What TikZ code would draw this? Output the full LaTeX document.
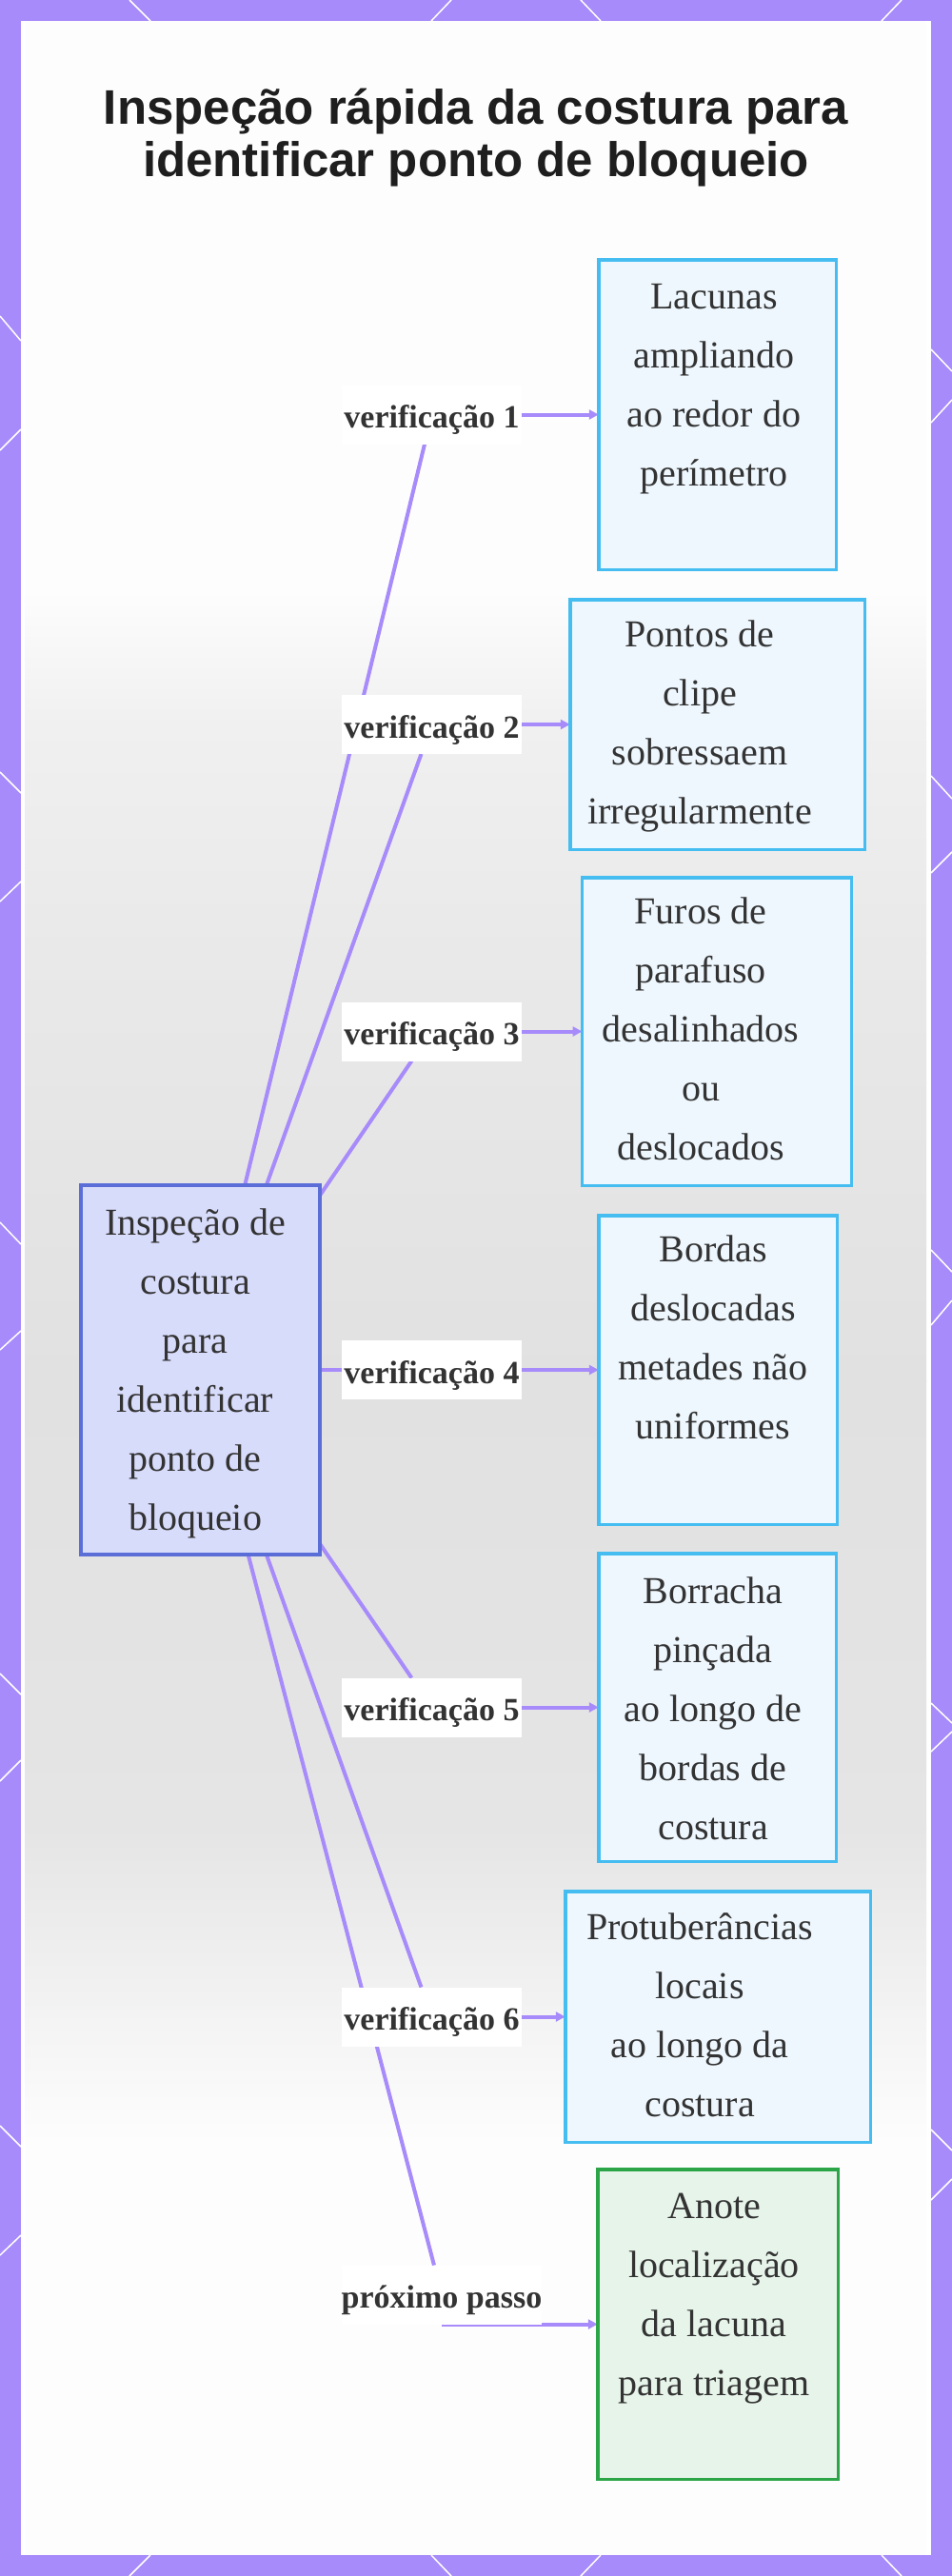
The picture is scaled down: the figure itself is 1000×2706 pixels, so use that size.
\documentclass[tikz,border=0pt]{standalone}
\usepackage{fontspec}
\setmainfont{Liberation Serif}
\newfontfamily\titlefont{Liberation Sans}
\usetikzlibrary{arrows.meta}
\definecolor{framec}{HTML}{A78BFA}
\definecolor{edgec}{HTML}{A78BFA}
\definecolor{ink}{HTML}{333333}
\definecolor{titlec}{HTML}{1E1E1E}
\definecolor{bluebd}{HTML}{45BDF0}
\definecolor{bluefill}{HTML}{EEF7FE}
\definecolor{greenbd}{HTML}{2BA548}
\definecolor{greenfill}{HTML}{E6F4EA}
\definecolor{hubbd}{HTML}{5B6ED8}
\definecolor{hubfill}{HTML}{D8DCFB}
\definecolor{gA}{HTML}{FDFDFD}
\definecolor{gB}{HTML}{F0F0F0}
\definecolor{gC}{HTML}{E9E9E9}
\definecolor{gD}{HTML}{E1E1E1}
\definecolor{gE}{HTML}{E5E5E5}
\pgfdeclarelayer{back}
\pgfdeclarelayer{edges}
\pgfsetlayers{back,edges,main}
\begin{document}
\begin{tikzpicture}[x=1pt,y=-1pt,
  every node/.style={inner sep=0pt, outer sep=0pt},
  hub/.style={draw=hubbd, fill=hubfill, line width=4pt},
  leaf/.style={draw=bluebd, fill=bluefill, line width=3.5pt},
  goal/.style={draw=greenbd, fill=greenfill, line width=3.5pt},
  txt/.style={anchor=north, align=center, text=ink, font=\fontsize{40}{62}\selectfont},
  lab/.style={fill=white, text=ink, font=\fontsize{34}{40}\selectfont\bfseries,
              minimum width=189pt, minimum height=62pt, text height=31pt, text depth=3pt},
  link/.style={draw=edgec, line width=4pt},
  arr/.style={draw=edgec, line width=4pt, -{Triangle[length=10pt,width=10pt]}},
  deco/.style={draw=white, line width=1.5pt},
  ttl/.style={anchor=base, text=titlec, font=\titlefont\fontsize{51}{55}\selectfont\bfseries}
]
\useasboundingbox (0,0) rectangle (1000,2706);

% ---------- main nodes ----------
\node[ttl] (t1) at (500,130) {Inspeção rápida da costura para};
\node[ttl] (t2) at (500,185) {identificar ponto de bloqueio};

\node[hub, minimum width=251pt, minimum height=388pt] (hub) at (210.5,1439) {};
\node[txt] (hubt) at (205,1270) {Inspeção de\\costura\\para\\identificar\\ponto de\\bloqueio};

\node[leaf, minimum width=249.5pt, minimum height=325.5pt] (b1) at (753.5,435.5) {};
\node[txt] (b1t) at (750,298) {Lacunas\\ampliando\\ao redor do\\perímetro};

\node[leaf, minimum width=309.5pt, minimum height=262.5pt] (b2) at (753.5,761) {};
\node[txt] (b2t) at (735,652) {Pontos de\\clipe\\sobressaem\\irregularmente};

\node[leaf, minimum width=283pt, minimum height=323.5pt] (b3) at (753,1083.5) {};
\node[txt] (b3t) at (736,943) {Furos de\\parafuso\\desalinhados\\ou\\deslocados};

\node[leaf, minimum width=250.5pt, minimum height=324.5pt] (b4) at (754,1439) {};
\node[txt] (b4t) at (749,1298) {Bordas\\deslocadas\\metades não\\uniformes};

\node[leaf, minimum width=249.5pt, minimum height=323.5pt] (b5) at (753.5,1793.5) {};
\node[txt] (b5t) at (749,1657) {Borracha\\pinçada\\ao longo de\\bordas de\\costura};

\node[leaf, minimum width=320.5pt, minimum height=263.5pt] (b6) at (754,2118.5) {};
\node[txt] (b6t) at (735,2010) {Protuberâncias\\locais\\ao longo da\\costura};

\node[goal, minimum width=252.5pt, minimum height=325.5pt] (b7) at (754,2441.5) {};
\node[txt] (b7t) at (750,2304) {Anote\\localização\\da lacuna\\para triagem};

\node[lab] (l1) at (453.5,435.5) {verificação 1};
\node[lab] (l2) at (453.5,761) {verificação 2};
\node[lab] (l3) at (453.5,1083.5) {verificação 3};
\node[lab] (l4) at (453.5,1439) {verificação 4};
\node[lab] (l5) at (453.5,1793.5) {verificação 5};
\node[lab] (l6) at (453.5,2118.5) {verificação 6};
\node[lab] (l7) at (464,2410.5) {próximo passo};

% ---------- connectors ----------
\begin{pgfonlayer}{edges}
\foreach \k in {1,...,7} { \draw[link] (hub) -- (l\k); }
\foreach \k in {1,...,6} { \draw[arr] (l\k) -- (b\k); }
\draw[arr] (l7.south) -- (b7.west);
\end{pgfonlayer}

% ---------- frame and background ----------
\begin{pgfonlayer}{back}
\fill[framec] (0,0) rectangle (1000,2706);
% top / bottom
\draw[deco] (136,0) -- (158,22);   \draw[deco] (474,0) -- (453,22);
\draw[deco] (610,0) -- (631,22);   \draw[deco] (947,0) -- (926,22);
\draw[deco] (158,2684) -- (136,2706); \draw[deco] (453,2684) -- (474,2706);
\draw[deco] (631,2684) -- (610,2706); \draw[deco] (926,2684) -- (947,2706);
% left
\draw[deco] (0,332) -- (22,358);   \draw[deco] (0,473) -- (22,451);
\draw[deco] (0,811) -- (22,833);   \draw[deco] (0,947) -- (22,926);
\draw[deco] (0,1284) -- (22,1307); \draw[deco] (0,1418) -- (22,1398);
\draw[deco] (0,1758) -- (22,1780); \draw[deco] (0,1871) -- (22,1849);
\draw[deco] (0,2233) -- (22,2255); \draw[deco] (0,2369) -- (22,2348);
% right
\draw[deco] (978,367) -- (1000,390);   \draw[deco] (978,444) -- (1000,420);
\draw[deco] (978,815) -- (1000,839);   \draw[deco] (978,917) -- (1000,895);
\draw[deco] (978,1313) -- (1000,1336); \draw[deco] (978,1392) -- (1000,1366);
\draw[deco] (978,1789) -- (1000,1810); \draw[deco] (978,1840) -- (1000,1819);
\draw[deco] (978,2237) -- (1000,2259); \draw[deco] (978,2311) -- (1000,2289);
\fill[white] (22,22) rectangle (978,2684);
\fill[gA] (26,22) rectangle (973,621);
\shade[top color=gA, bottom color=gB] (26,620) rectangle (973,761);
\shade[top color=gB, bottom color=gC] (26,760) rectangle (973,1001);
\shade[top color=gC, bottom color=gD] (26,1000) rectangle (973,1451);
\shade[top color=gD, bottom color=gE] (26,1450) rectangle (973,1921);
\shade[top color=gE, bottom color=gA] (26,1920) rectangle (973,2251);
\fill[gA] (26,2250) rectangle (973,2684);
\end{pgfonlayer}
\end{tikzpicture}
\end{document}
